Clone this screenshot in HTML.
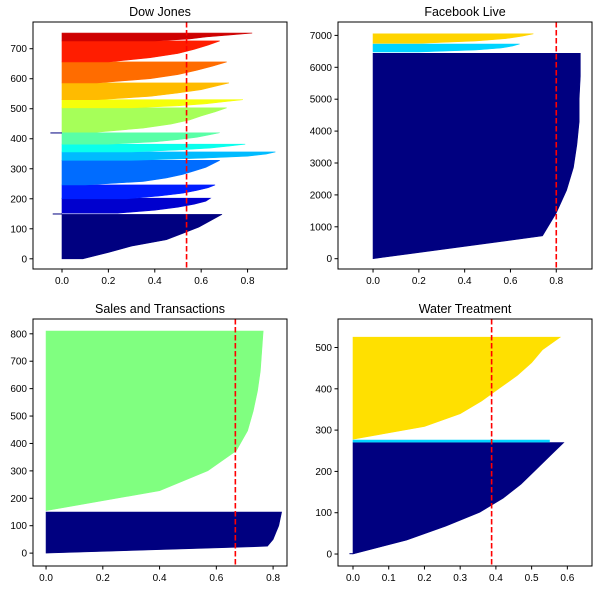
<!DOCTYPE html>
<html><head><meta charset="utf-8"><style>
body{margin:0;background:#fff;width:598px;height:590px;overflow:hidden}
svg{display:block;font-family:"Liberation Sans","DejaVu Sans",sans-serif}
</style></head><body>
<svg id="fig" width="598" height="590" xmlns="http://www.w3.org/2000/svg"></svg>
<script>
// ---- data ----
const titles = ["Dow Jones", "Facebook Live", "Sales and Transactions", "Water Treatment"];
const xTicks = [[0,0.2,0.4,0.6,0.8],[0,0.2,0.4,0.6,0.8],[0,0.2,0.4,0.6,0.8],[0,0.1,0.2,0.3,0.4,0.5,0.6]];
const yTicks = [[0,100,200,300,400,500,600,700],[0,1000,2000,3000,4000,5000,6000,7000],[0,100,200,300,400,500,600,700,800],[0,100,200,300,400,500]];
const avgScore = [0.537, 0.80, 0.667, 0.388];
// cluster y ranges [start,end] and sorted silhouette profiles (bottom -> top, evenly spaced)
const dowRanges = [[0,148],[152,202],[200,246],[246,328],[328,356],[356,382],[382,420],[422,503],[503,530],[530,586],[586,656],[656,726],[726,752]];
const dowProfiles = [
 [0.09,0.2,0.3,0.45,0.52,0.59,0.64,0.69],
 [0.24,0.4,0.5,0.57,0.62,0.64],
 [0.28,0.42,0.52,0.58,0.63,0.66],
 [0.1,0.35,0.45,0.52,0.57,0.62,0.65,0.68],
 [0.3,0.6,0.8,0.88,0.92],
 [0.3,0.5,0.64,0.72,0.79],
 [0.2,0.4,0.5,0.58,0.63,0.68],
 [0.15,0.35,0.47,0.55,0.6,0.66,0.71],
 [0.3,0.5,0.62,0.7,0.78],
 [0.15,0.38,0.5,0.6,0.66,0.72],
 [0.15,0.38,0.5,0.58,0.65,0.71],
 [0.2,0.38,0.5,0.57,0.63,0.68],
 [0.4,0.55,0.62,0.72,0.82]];
const dowColors = ["#000080","#0000ce","#001dff","#006cff","#00bbff","#0affed","#59ffa6","#a6ff59","#f5ff0a","#ffbb00","#ff6c00","#ff1d00","#ce0000"];
const dowNegatives = [[149,151,-0.04],[419,421,-0.05]];
const fbRanges = [[0,6440],[6480,6730],[6750,7050]];
const fbProfiles = [[0,0.74,0.8,0.845,0.875,0.89,0.9,0.9,0.905,0.905],[0.2,0.45,0.56,0.61,0.64],[0.2,0.45,0.58,0.65,0.7]];
const fbColors = ["#000080","#00d4ff","#ffd400"];
const fbNegatives = [];
const salesRanges = [[0,150],[155,810]];
const salesProfiles = [[0,0.78,0.8,0.81,0.82,0.825,0.83],[0,0.4,0.57,0.67,0.71,0.73,0.745,0.755,0.76,0.765]];
const salesColors = ["#000080","#80ff80"];
const salesNegatives = [];
const waterRanges = [[0,270],[271,276],[278,525]];
const waterProfiles = [[0,0.15,0.26,0.355,0.42,0.47,0.51,0.55,0.59],[0.55,0.55],[0,0.2,0.3,0.36,0.41,0.46,0.5,0.53,0.58]];
const waterColors = ["#000080","#00d4ff","#ffe000"];
const waterNegatives = [[0,2,-0.01]];
const allRanges = [dowRanges, fbRanges, salesRanges, waterRanges];
const allProfiles = [dowProfiles, fbProfiles, salesProfiles, waterProfiles];
const allColors = [dowColors, fbColors, salesColors, waterColors];
const allNegatives = [dowNegatives, fbNegatives, salesNegatives, waterNegatives];
const negColors = ["#000080","#000080","#000080","#000080"];
const xLims = [[-0.125,0.97],[-0.153,0.956],[-0.046,0.849],[-0.042,0.669]];
const yLims = [[-34,789],[-323,7420],[-47,854],[-29,569]];
const frames = [[33,22,254,247],[338,22,254,247],[33,319,254,247],[338,319,254,247]];

const NS = "http://www.w3.org/2000/svg";
const svg = document.getElementById('fig');
function mk(tag, attrs, parent){const e=document.createElementNS(NS,tag);for(const k in attrs)e.setAttribute(k,attrs[k]);(parent||svg).appendChild(e);return e;}
function fmt(v, step){return step<1 ? v.toFixed(1) : String(v);}

for(let p=0;p<4;p++){
  const [fx,fy,fw,fh]=frames[p];
  const [x0,x1]=xLims[p],[y0,y1]=yLims[p];
  const X=v=>fx+(v-x0)/(x1-x0)*fw;
  const Y=v=>fy+fh-(v-y0)/(y1-y0)*fh;
  const g=mk('g',{});
  
  
  const t=mk('text',{x:fx+fw/2,y:fy-6,'text-anchor':'middle','font-size':12.5,fill:'#000'},g);
  t.textContent=titles[p];
  
  
  const clip=mk('clipPath',{id:'c'+p},g);mk('rect',{x:fx,y:fy,width:fw,height:fh},clip);
  const cg=mk('g',{'clip-path':'url(#c'+p+')'},g);
  allRanges[p].forEach((r,i)=>{
    const prof=allProfiles[p][i];const n=prof.length;
    let pts=[[X(0),Y(r[0])]];
    prof.forEach((v,k)=>{const yy=r[0]+(n>1?k/(n-1):0)*(r[1]-r[0]);pts.push([X(v),Y(yy)]);});
    pts.push([X(0),Y(r[1])]);
    const poly=mk('polygon',{points:pts.map(q=>q.join(',')).join(' '),fill:allColors[p][i],stroke:allColors[p][i],'stroke-width':0.6},cg);
    
    
  });
  allNegatives[p].forEach(nv=>{
    const r=mk('rect',{x:X(nv[2]),y:Y(nv[1]),width:X(0)-X(nv[2]),height:Math.max(1,Y(nv[0])-Y(nv[1])),fill:negColors[p]},cg);
    
    
  });
  const ln=mk('line',{x1:X(avgScore[p]),x2:X(avgScore[p]),y1:fy,y2:fy+fh,stroke:'#ff0000','stroke-width':1.6,'stroke-dasharray':'5.5,2.5'},g);
  
  
  mk('rect',{x:fx,y:fy,width:fw,height:fh,fill:'none',stroke:'#000','stroke-width':1},g);
  const xs=xTicks[p][1]-xTicks[p][0];
  xTicks[p].forEach(v=>{const x=X(v);mk('line',{x1:x,x2:x,y1:fy+fh,y2:fy+fh+3.5,stroke:'#000'},g);
    const tt=mk('text',{x:x,y:fy+fh+15,'text-anchor':'middle','font-size':10,fill:'#000'},g);tt.textContent=fmt(v,xs);
    
    });
  yTicks[p].forEach(v=>{const y=Y(v);mk('line',{x1:fx-3.5,x2:fx,y1:y,y2:y,stroke:'#000'},g);
    const tt=mk('text',{x:fx-6,y:y+3.5,'text-anchor':'end','font-size':10,fill:'#000'},g);tt.textContent=String(v);
    
    });
}
</script>
</body></html>
